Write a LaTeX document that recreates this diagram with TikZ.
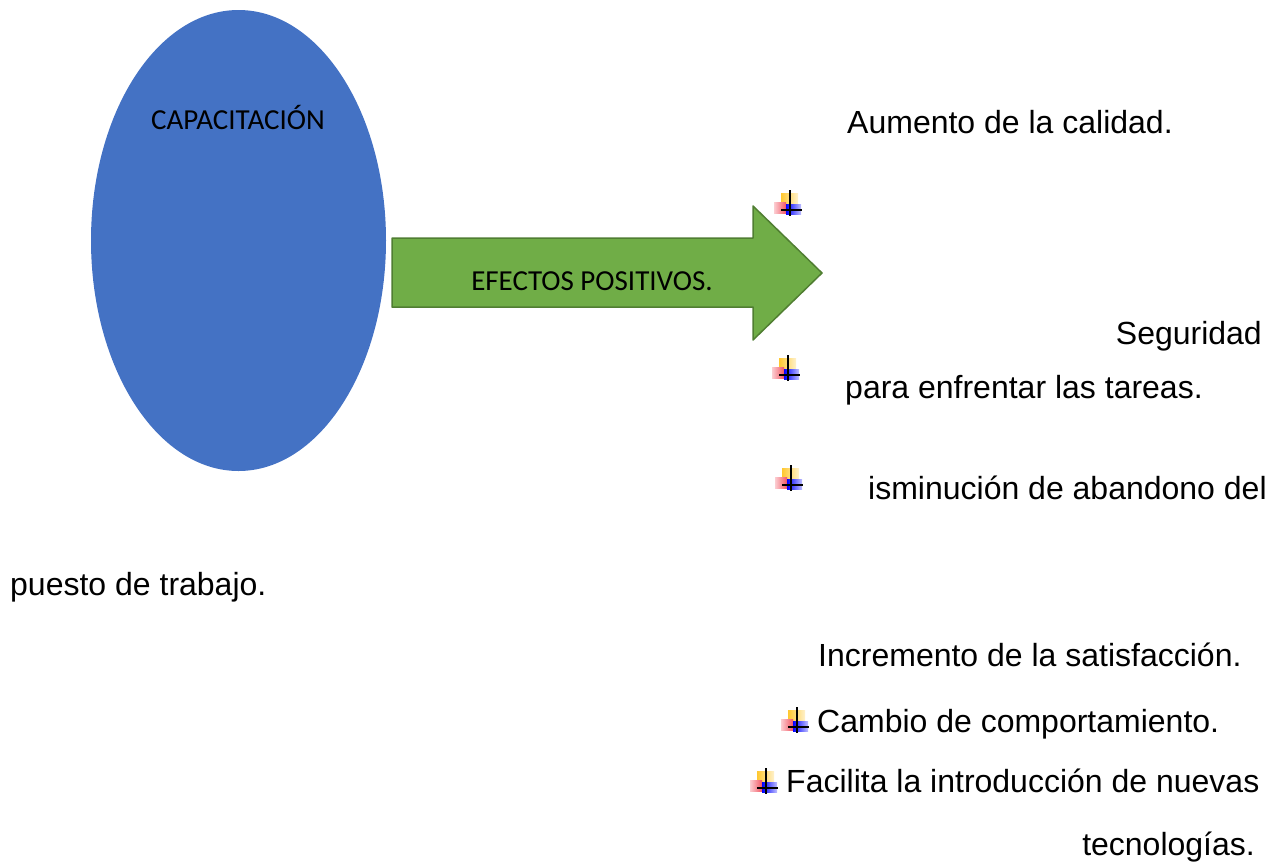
\documentclass[tikz,border=0pt]{standalone}
\usepackage{fontspec}
\setmainfont{Liberation Sans}
\newfontfamily\calibri{Carlito}
\usetikzlibrary{shapes.geometric, positioning}

\definecolor{capblue}{HTML}{4472C4}
\definecolor{effgreen}{HTML}{70AD47}
\definecolor{effedge}{HTML}{507E32}
\definecolor{markgold}{HTML}{FFC830}
\definecolor{markred}{HTML}{F03848}

\begin{document}
\begin{tikzpicture}[x=1pt, y=-1pt]
    \tikzstyle{blob} = [ellipse, minimum width=295pt, minimum height=461pt, inner sep=0pt, fill=capblue]
    \tikzstyle{shapelabel} = [font=\calibri\fontsize{29}{35}\selectfont, inner sep=0pt]
    \tikzstyle{item} = [font=\fontsize{32}{38}\selectfont, inner sep=0pt, anchor=base west]
    \tikzstyle{itemright} = [item, anchor=base east]
    \tikzset{bulletmark/.pic={
        \shade [left color=markgold, right color=markgold!25] (-9,-10) rectangle (8,1);
        \shade [left color=markred!25, right color=markred!85] (-16,-1) rectangle (-4,10);
        \shade [left color=blue, right color=blue!25] (-4,1) rectangle (11,11);
        \draw [black, line width=1.5pt] (0,-13) -- (0,13);
        \draw [black, line width=1.5pt] (-9,7) -- (12,7);
    }}

    \useasboundingbox (0,0) rectangle (1276,865);

    % left shape and block arrow
    \node (cap) [blob] at (238.5,240.5) {};
    \node (capText) [shapelabel, anchor=base] at (238,129) {CAPACITACIÓN};
    \draw [effedge, fill=effgreen, line width=1.5pt, line join=round]
        (392,238) -- (753,238) -- (753,206) -- (822,273) -- (753,340) -- (753,307) -- (392,307) -- cycle;
    \node (efectos) [shapelabel, anchor=base] at (592,290) {EFECTOS POSITIVOS.};

    % effects list
    \node (calidad) [item] at (847,133) {Aumento de la calidad.};
    \pic (m1) at (790,203) {bulletmark};
    \node (seguridad) [itemright] at (1262,344) {Seguridad};
    \pic (m2) at (788,368) {bulletmark};
    \node (tareas) [item] at (845,398) {para enfrentar las tareas.};
    \pic (m3) at (791,478) {bulletmark};
    \node (abandono) [item] at (868,499) {isminución de abandono del};
    \node (puesto) [item] at (10,595) {puesto de trabajo.};
    \node (satisf) [item] at (818,666) {Incremento de la satisfacción.};
    \pic (m4) at (797,720) {bulletmark};
    \node (cambio) [item] at (817,732) {Cambio de comportamiento.};
    \pic (m5) at (766,781) {bulletmark};
    \node (facilita) [item] at (786,792) {Facilita la introducción de nuevas};
    \node (tecno) [itemright] at (1255,855) {tecnologías.};
\end{tikzpicture}
\end{document}
